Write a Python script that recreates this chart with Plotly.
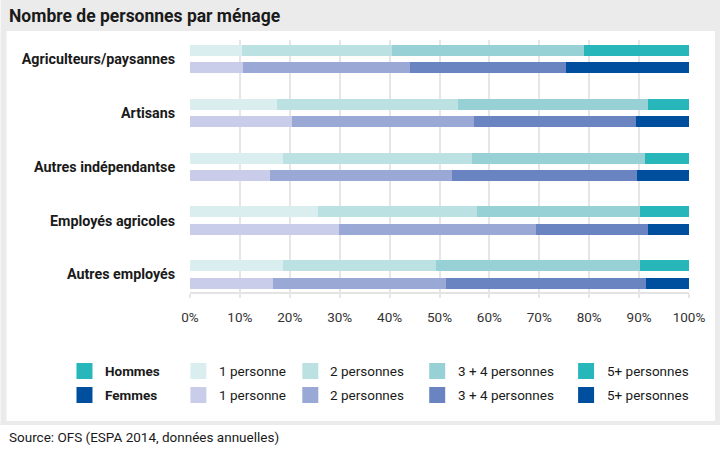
import plotly.graph_objects as go

categories = ["Agriculteurs/paysannes", "Artisans", "Autres indépendantse",
              "Employés agricoles", "Autres employés"]
size_labels = ["1 personne", "2 personnes", "3 + 4 personnes", "5+ personnes"]

hommes_1 = [10.5, 17.5, 18.6, 25.7, 18.6]
hommes_2 = [30.0, 36.3, 37.9, 31.8, 30.6]
hommes_34 = [38.5, 37.9, 34.7, 32.6, 40.9]
hommes_5 = [21.0, 8.3, 8.8, 9.9, 9.9]

femmes_1 = [10.7, 20.5, 16.1, 29.9, 16.7]
femmes_2 = [33.4, 36.5, 36.4, 39.4, 34.6]
femmes_34 = [31.3, 32.4, 37.1, 22.5, 40.1]
femmes_5 = [24.6, 10.6, 10.4, 8.2, 8.6]

x_ticks = [0, 10, 20, 30, 40, 50, 60, 70, 80, 90, 100]

hommes_colors = ["#daeef0", "#bce1e2", "#98d1d5", "#27b7bb"]
femmes_colors = ["#c9cde9", "#99a8d5", "#6a84c1", "#004f9e"]

FONT = "Roboto"
W, H = 720, 449
L, R, T, B = 189.6, 689.0, 40.0, 293.0

idx = list(range(len(categories)))
y_h = [i - 0.161 for i in idx]
y_f = [i + 0.161 for i in idx]
bar_w = 0.205

fig = go.Figure()
for vals, col, name in zip([hommes_1, hommes_2, hommes_34, hommes_5], hommes_colors, size_labels):
    fig.add_trace(go.Bar(x=vals, y=y_h, orientation="h", width=bar_w, name=name,
                         marker=dict(color=col, line=dict(width=0)), showlegend=False))
for vals, col, name in zip([femmes_1, femmes_2, femmes_34, femmes_5], femmes_colors, size_labels):
    fig.add_trace(go.Bar(x=vals, y=y_f, orientation="h", width=bar_w, name=name,
                         marker=dict(color=col, line=dict(width=0)), showlegend=False))


def px_x(p):
    return (p - L) / (R - L)


def px_y(p):
    return (B - p) / (B - T)


shapes = []
annotations = []
gray = "#ebebeb"
# frame
for x0, y0, x1, y1 in [(0, 0, W, 31), (0, 31, 6, 425), (715, 31, W, 425), (0, 421, W, 425)]:
    shapes.append(dict(type="rect", xref="paper", yref="paper",
                       x0=px_x(x0), x1=px_x(x1), y0=px_y(y1), y1=px_y(y0),
                       fillcolor=gray, line=dict(width=0), layer="below"))
# axis baseline
shapes.append(dict(type="line", xref="paper", yref="paper", x0=0, x1=1, y0=0, y1=0,
                   line=dict(color="#e3e3e3", width=2), layer="below"))

annotations.append(dict(text="<b>Nombre de personnes par ménage</b>", xref="paper", yref="paper",
                        x=px_x(6.5), y=px_y(16), xanchor="left", yanchor="middle", showarrow=False,
                        font=dict(family=FONT, size=17.5, color="#1a1a1a")))
annotations.append(dict(text="Source: OFS (ESPA 2014, données annuelles)", xref="paper", yref="paper",
                        x=px_x(6.5), y=px_y(437), xanchor="left", yanchor="middle", showarrow=False,
                        font=dict(family=FONT, size=13.5, color="#1a1a1a")))

# legend
col_sq = [76, 190, 302, 429, 578]
col_tx = [103, 217, 328, 456, 605]
rows = [(371, "<b>Hommes</b>", hommes_colors), (395, "<b>Femmes</b>", femmes_colors)]
for yc, head, cols in rows:
    row_colors = [cols[3]] + cols
    row_texts = [head] + size_labels
    for xs, xt, c, t in zip(col_sq, col_tx, row_colors, row_texts):
        shapes.append(dict(type="rect", xref="paper", yref="paper",
                           x0=px_x(xs), x1=px_x(xs + 16), y0=px_y(yc + 8), y1=px_y(yc - 8),
                           fillcolor=c, line=dict(width=0)))
        annotations.append(dict(text=t, xref="paper", yref="paper", x=px_x(xt), y=px_y(yc),
                                xanchor="left", yanchor="middle", showarrow=False,
                                font=dict(family=FONT, size=13.5, color="#1a1a1a")))

fig.update_layout(
    width=W, height=H,
    margin=dict(l=L, r=W - R, t=T, b=H - B, pad=0),
    paper_bgcolor="white", plot_bgcolor="rgba(0,0,0,0)",
    barmode="stack", bargap=0,
    shapes=shapes, annotations=annotations,
    showlegend=False,
    xaxis=dict(range=[0, 100], tickvals=x_ticks, ticktext=[f"{v}%" for v in x_ticks],
               showgrid=True, gridcolor="#e6e6e6", gridwidth=2, zeroline=False,
               ticks="outside", ticklen=4, tickcolor="#e6e6e6", tickwidth=2,
               ticklabelstandoff=8,
               tickfont=dict(family=FONT, size=13.5, color="#333333"), showline=False),
    yaxis=dict(range=[4.345, -0.357], tickvals=idx, ticktext=[f"<b>{c}</b>" for c in categories],
               showgrid=False, zeroline=False, ticks="outside", ticklen=11, tickcolor="rgba(0,0,0,0)",
               tickfont=dict(family=FONT, size=14.3, color="#1a1a1a")),
)

fig.write_html("out.html", config={"displayModeBar": False},
               post_script="document.body.style.margin='0';document.body.style.overflow='hidden';")
